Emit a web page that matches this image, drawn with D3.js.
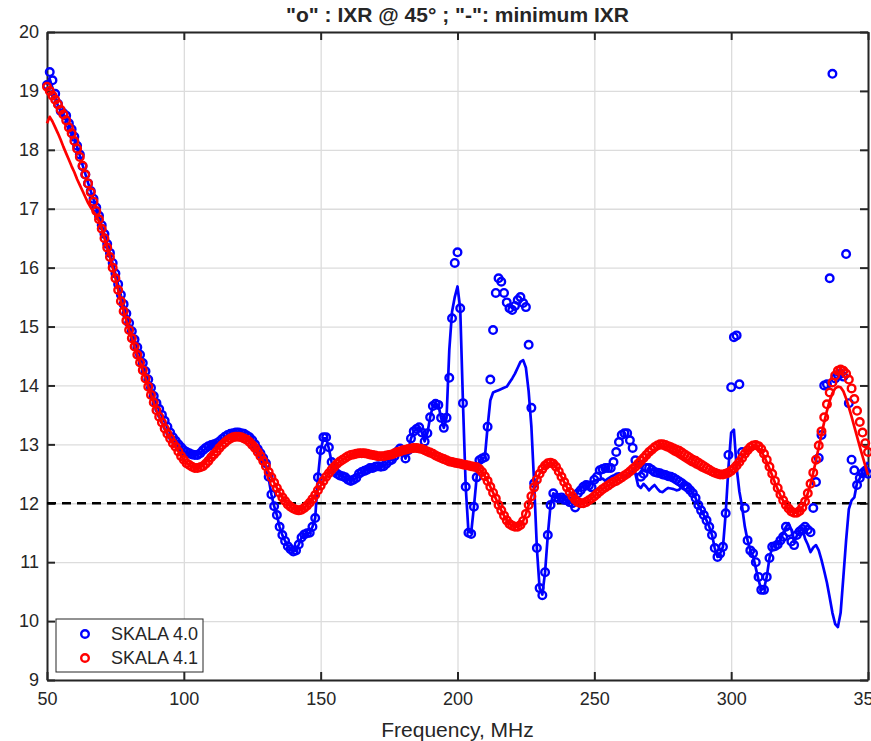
<!DOCTYPE html>
<html>
<head>
<meta charset="utf-8">
<script src="https://cdn.jsdelivr.net/npm/d3@7/dist/d3.min.js"></script>
<style>
    body { margin: 0; background: #fff; }
    svg text { font-family: "Liberation Sans", Arial, Helvetica, sans-serif; fill: #262626; }
</style>
</head>
<body>
<script>
//frequency grid, MHz (one sample per MHz)
var freqs = d3.range(50, 351, 1);

//SKALA 4.0, IXR @ 45 deg (blue circles)
var blueIxr = [
    19.1, 19.32, 19.18, 18.95, 18.78, 18.66, 18.62, 18.58, 18.45, 18.35,
    18.22, 18.07, 17.92, 17.72, 17.58, 17.43, 17.3, 17.17, 17.02, 16.88,
    16.72, 16.57, 16.4, 16.25, 16.08, 15.9, 15.72, 15.54, 15.38, 15.22,
    15.06, 14.92, 14.78, 14.65, 14.52, 14.38, 14.24, 14.1, 13.96, 13.82,
    13.7, 13.6, 13.5, 13.4, 13.3, 13.2, 13.12, 13.06, 13.0, 12.95,
    12.9, 12.87, 12.85, 12.83, 12.82, 12.82, 12.85, 12.9, 12.94, 12.97,
    12.99, 13.0, 13.02, 13.05, 13.09, 13.13, 13.16, 13.18, 13.19, 13.2,
    13.2, 13.19, 13.18, 13.15, 13.12, 13.07, 13.0, 12.92, 12.85, 12.77,
    12.68, 12.45, 12.15, 11.95, 11.8, 11.6, 11.46, 11.36, 11.27, 11.22,
    11.18, 11.2, 11.3, 11.42, 11.47, 11.49, 11.5, 11.6, 11.75, 12.44,
    12.9, 13.12, 13.12, 12.95, 12.7, 12.55, 12.5, 12.47, 12.46, 12.44,
    12.4, 12.38, 12.4, 12.43, 12.5, 12.53, 12.55, 12.57, 12.6, 12.6,
    12.62, 12.63, 12.62, 12.63, 12.67, 12.72, 12.74, 12.8, 12.88, 12.93,
    12.87, 12.76, 12.9, 13.1, 13.22, 13.26, 13.29, 13.2, 13.05, 13.19,
    13.46, 13.65, 13.69, 13.67, 13.45, 13.28, 13.45, 14.13, 15.14, 16.08,
    16.26, 15.31, 13.7, 12.28, 11.5, 11.48, 11.94, 12.44, 12.73, 12.76,
    12.78, 13.3, 14.1, 14.94, 15.57, 15.82, 15.76, 15.57, 15.41, 15.31,
    15.28, 15.35, 15.45, 15.5, 15.4, 15.33, 14.69, 13.62, 12.34, 11.24,
    10.56, 10.44, 10.83, 11.46, 11.97, 12.17, 12.1, 12.08, 12.1, 12.06,
    12.05, 12.02, 12.0, 11.93, 12.17, 12.22, 12.28, 12.31, 12.3, 12.27,
    12.4, 12.45, 12.56, 12.58, 12.6, 12.6, 12.6, 12.7, 12.87, 13.04,
    13.16, 13.19, 13.19, 13.07, 12.94, 12.73, 12.56, 12.45, 12.5, 12.6,
    12.6, 12.57, 12.53, 12.52, 12.51, 12.49, 12.48, 12.46, 12.45, 12.43,
    12.4, 12.37, 12.34, 12.3, 12.27, 12.22, 12.17, 12.09, 11.97, 11.88,
    11.8, 11.71, 11.6, 11.46, 11.24, 11.09, 11.15, 11.26, 11.83, 12.82,
    13.97, 14.82, 14.85, 14.02, 12.87, 11.92, 11.37, 11.2, 11.15, 11.0,
    10.75, 10.53, 10.53, 10.75, 11.07, 11.26, 11.27, 11.3, 11.37, 11.43,
    11.6, 11.51, 11.35, 11.29, 11.46, 11.52, 11.56, 11.6, 11.55, 11.51,
    11.92, 12.36, 12.77, 13.16, 14.0, 14.02, 15.82, 19.29, 14.12, 14.18,
    14.2, 14.15, 16.23, 13.7, 12.74, 12.56, 12.31, 12.43, 12.51, 12.55,
    12.5
];

//SKALA 4.0, minimum IXR (blue line)
var blueMin = [
    19.1, 19.2, 19.05, 18.88, 18.75, 18.66, 18.6, 18.52, 18.42, 18.32,
    18.2, 18.05, 17.9, 17.74, 17.59, 17.44, 17.3, 17.16, 17.01, 16.87,
    16.71, 16.56, 16.4, 16.24, 16.07, 15.89, 15.71, 15.53, 15.37, 15.21,
    15.05, 14.91, 14.77, 14.64, 14.51, 14.37, 14.23, 14.09, 13.95, 13.81,
    13.69, 13.58, 13.48, 13.38, 13.28, 13.19, 13.11, 13.05, 12.99, 12.94,
    12.89, 12.86, 12.84, 12.82, 12.81, 12.82, 12.85, 12.89, 12.93, 12.96,
    12.98, 13.0, 13.02, 13.05, 13.09, 13.12, 13.15, 13.17, 13.18, 13.19,
    13.19, 13.18, 13.17, 13.14, 13.1, 13.05, 12.98, 12.9, 12.82, 12.74,
    12.64, 12.42, 12.15, 11.95, 11.8, 11.6, 11.46, 11.36, 11.27, 11.22,
    11.18, 11.2, 11.3, 11.42, 11.47, 11.49, 11.5, 11.6, 11.75, 12.44,
    12.9, 13.1, 13.1, 12.93, 12.7, 12.55, 12.5, 12.47, 12.46, 12.44,
    12.4, 12.38, 12.4, 12.43, 12.5, 12.53, 12.55, 12.57, 12.6, 12.6,
    12.62, 12.63, 12.62, 12.63, 12.67, 12.72, 12.74, 12.8, 12.88, 12.93,
    12.87, 12.76, 12.9, 13.1, 13.22, 13.26, 13.29, 13.2, 13.05, 13.19,
    13.46, 13.65, 13.69, 13.67, 13.45, 13.28, 13.45, 14.6, 15.25, 15.5,
    15.68, 15.3, 13.7, 12.28, 11.52, 11.5, 11.94, 12.44, 12.73, 12.76,
    12.78, 13.3, 13.75, 13.88, 13.9, 13.92, 13.94, 13.96, 13.98, 14.05,
    14.12, 14.2, 14.3, 14.4, 14.43, 14.3, 13.9, 13.3, 12.34, 11.24,
    10.56, 10.45, 10.83, 11.46, 11.97, 12.17, 12.1, 12.08, 12.1, 12.06,
    12.05, 12.02, 12.0, 12.1, 12.2, 12.25, 12.3, 12.33, 12.35, 12.36,
    12.38, 12.4, 12.4, 12.42, 12.38, 12.42, 12.45, 12.47, 12.5, 12.51,
    12.48, 12.45, 12.47, 12.52, 12.54, 12.5, 12.3, 12.26, 12.33, 12.28,
    12.22, 12.27, 12.31, 12.25, 12.2, 12.19, 12.23, 12.26, 12.25, 12.24,
    12.22, 12.23, 12.3, 12.33, 12.3, 12.22, 12.17, 12.09, 11.97, 11.88,
    11.8, 11.71, 11.6, 11.46, 11.24, 11.09, 11.15, 11.26, 11.83, 12.6,
    13.2, 13.25, 12.6, 12.2, 11.94, 11.6, 11.37, 11.2, 11.1, 10.9,
    10.7, 10.53, 10.55, 10.75, 11.07, 11.26, 11.29, 11.33, 11.37, 11.5,
    11.6, 11.66, 11.55, 11.34, 11.45, 11.52, 11.58, 11.4, 11.3, 11.17,
    11.25, 11.29, 11.2, 11.04, 10.85, 10.65, 10.4, 10.14, 9.95, 9.9,
    10.14, 10.75, 11.37, 11.9, 12.05, 12.1, 12.35, 12.42, 12.55, 12.62,
    12.7
];

//SKALA 4.1, IXR @ 45 deg (red circles)
var redIxr = [
    19.07, 19.0, 18.92, 18.85, 18.77, 18.68, 18.6, 18.5, 18.38, 18.28,
    18.15, 18.02, 17.88, 17.73, 17.58, 17.43, 17.28, 17.12, 16.96, 16.82,
    16.66, 16.5, 16.34, 16.18, 16.0, 15.82, 15.62, 15.43, 15.26, 15.1,
    14.94, 14.8, 14.66, 14.52, 14.39, 14.26, 14.12, 13.98, 13.84, 13.71,
    13.58, 13.47, 13.37, 13.27, 13.18, 13.1, 13.02, 12.96, 12.88, 12.8,
    12.74, 12.68, 12.65, 12.62, 12.6, 12.6, 12.61, 12.63, 12.67, 12.72,
    12.78, 12.83, 12.88, 12.94, 12.99, 13.03, 13.07, 13.1, 13.12, 13.13,
    13.13, 13.12, 13.1, 13.08, 13.04, 12.99, 12.94, 12.87, 12.8, 12.72,
    12.63, 12.53, 12.44, 12.35, 12.26, 12.18, 12.1, 12.04, 11.98, 11.94,
    11.91, 11.89, 11.88, 11.89, 11.92, 11.96, 12.01, 12.07, 12.14, 12.22,
    12.3, 12.38, 12.45, 12.51, 12.57, 12.62, 12.67, 12.71, 12.74, 12.77,
    12.8, 12.82, 12.83, 12.84, 12.85, 12.85, 12.85, 12.84, 12.83, 12.82,
    12.81, 12.8, 12.8, 12.8, 12.81, 12.82, 12.83, 12.85, 12.87, 12.88,
    12.9, 12.91, 12.92, 12.93, 12.94, 12.94, 12.93, 12.92, 12.9, 12.88,
    12.86, 12.84, 12.81, 12.79, 12.77, 12.75, 12.73, 12.71, 12.7, 12.69,
    12.68, 12.67, 12.66, 12.65, 12.64, 12.63, 12.62, 12.61, 12.58, 12.53,
    12.46, 12.38, 12.28, 12.18, 12.08, 11.97, 11.88, 11.79, 11.71, 11.65,
    11.62, 11.6, 11.6, 11.63, 11.7, 11.82, 11.97, 12.12, 12.27, 12.4,
    12.5, 12.58, 12.64, 12.68, 12.69, 12.67, 12.62, 12.54, 12.45, 12.36,
    12.27, 12.19, 12.12, 12.06, 12.02, 12.0, 12.0, 12.02, 12.05, 12.08,
    12.12, 12.16, 12.2, 12.24, 12.27, 12.3, 12.33, 12.36, 12.38, 12.41,
    12.44, 12.47, 12.5, 12.54, 12.58, 12.62, 12.67, 12.72, 12.77, 12.82,
    12.87, 12.91, 12.95, 12.98, 13.0, 13.0, 12.99, 12.97, 12.95, 12.93,
    12.91, 12.89, 12.86, 12.83, 12.8, 12.77, 12.74, 12.72, 12.69, 12.66,
    12.63, 12.6, 12.57, 12.54, 12.52, 12.5, 12.49, 12.49, 12.5, 12.52,
    12.55, 12.59, 12.64, 12.7, 12.77, 12.84, 12.9, 12.95, 12.98, 12.99,
    12.97, 12.92, 12.84, 12.74, 12.62, 12.5, 12.38, 12.26, 12.15, 12.05,
    11.97, 11.91, 11.86, 11.84, 11.84, 11.87, 11.93, 12.03, 12.17, 12.33,
    12.52, 12.74, 12.98, 13.22, 13.46, 13.68, 13.88, 14.05, 14.17, 14.25,
    14.27, 14.25, 14.2, 14.1, 13.95, 13.77, 13.57, 13.38, 13.2, 13.02,
    12.87
];

//SKALA 4.1, minimum IXR (red line)
var redMin = [
    18.45, 18.56, 18.48, 18.38, 18.28, 18.17, 18.05, 17.94, 17.83, 17.72,
    17.62, 17.5, 17.4, 17.3, 17.2, 17.1, 17.02, 16.95, 16.88, 16.79,
    16.66, 16.5, 16.34, 16.18, 16.0, 15.82, 15.62, 15.43, 15.26, 15.1,
    14.94, 14.8, 14.66, 14.52, 14.39, 14.26, 14.12, 13.98, 13.84, 13.71,
    13.58, 13.47, 13.37, 13.27, 13.18, 13.1, 13.02, 12.96, 12.88, 12.8,
    12.74, 12.68, 12.65, 12.62, 12.6, 12.6, 12.62, 12.65, 12.69, 12.74,
    12.8, 12.85, 12.9, 12.96, 13.01, 13.05, 13.09, 13.12, 13.14, 13.15,
    13.15, 13.14, 13.12, 13.09, 13.05, 13.0, 12.94, 12.87, 12.8, 12.72,
    12.63, 12.53, 12.44, 12.35, 12.26, 12.18, 12.1, 12.04, 11.98, 11.94,
    11.91, 11.89, 11.88, 11.89, 11.92, 11.96, 12.01, 12.07, 12.14, 12.22,
    12.3, 12.38, 12.45, 12.51, 12.57, 12.62, 12.67, 12.71, 12.74, 12.77,
    12.8, 12.82, 12.83, 12.84, 12.85, 12.85, 12.85, 12.84, 12.83, 12.82,
    12.81, 12.8, 12.8, 12.8, 12.81, 12.82, 12.83, 12.85, 12.87, 12.88,
    12.9, 12.91, 12.92, 12.93, 12.94, 12.94, 12.93, 12.92, 12.9, 12.88,
    12.86, 12.84, 12.81, 12.79, 12.77, 12.75, 12.73, 12.71, 12.7, 12.69,
    12.68, 12.67, 12.66, 12.65, 12.64, 12.63, 12.62, 12.61, 12.58, 12.53,
    12.46, 12.38, 12.28, 12.18, 12.08, 11.97, 11.88, 11.79, 11.71, 11.65,
    11.62, 11.6, 11.6, 11.63, 11.7, 11.82, 11.97, 12.12, 12.27, 12.4,
    12.5, 12.58, 12.64, 12.68, 12.69, 12.67, 12.62, 12.54, 12.45, 12.36,
    12.27, 12.19, 12.12, 12.06, 12.02, 12.0, 12.0, 12.02, 12.05, 12.08,
    12.12, 12.16, 12.2, 12.24, 12.27, 12.3, 12.33, 12.36, 12.38, 12.41,
    12.44, 12.47, 12.5, 12.54, 12.58, 12.62, 12.66, 12.7, 12.74, 12.79,
    12.85, 12.88, 12.91, 12.93, 12.94, 12.93, 12.91, 12.89, 12.86, 12.83,
    12.81, 12.78, 12.75, 12.72, 12.69, 12.66, 12.64, 12.61, 12.59, 12.56,
    12.54, 12.52, 12.5, 12.48, 12.47, 12.46, 12.46, 12.47, 12.49, 12.52,
    12.55, 12.59, 12.64, 12.7, 12.77, 12.84, 12.9, 12.94, 12.96, 12.96,
    12.93, 12.88, 12.8, 12.7, 12.59, 12.47, 12.35, 12.24, 12.13, 12.04,
    11.96, 11.9, 11.86, 11.84, 11.84, 11.87, 11.93, 12.03, 12.17, 12.33,
    12.52, 12.73, 12.95, 13.17, 13.38, 13.57, 13.74, 13.87, 13.95, 13.98,
    13.97, 13.9, 13.78, 13.63, 13.47, 13.3, 13.13, 12.96, 12.8, 12.64,
    12.48
];

//axis ticks, reference level and legend entries
var xTicks = [50, 100, 150, 200, 250, 300, 350];
var yTicks = [9, 10, 11, 12, 13, 14, 15, 16, 17, 18, 19, 20];
var refLevel = 12;
var legendLabels = ["SKALA 4.0", "SKALA 4.1"];
var seriesColors = ["#0000ff", "#ff0000"];

(function(){

    //frame dimensions
    var width = 871,
        height = 741,
        left = 47,
        right = 868,
        top = 32,
        bottom = 680;

    var svg = d3.select("body")
        .append("svg")
        .attr("width", width)
        .attr("height", height);

    //scales
    var x = d3.scaleLinear()
        .domain([50, 350])
        .range([left, right]);

    var y = d3.scaleLinear()
        .domain([9, 20])
        .range([bottom, top]);

    //grid lines
    svg.append("g")
        .attr("class", "grid")
        .attr("transform", "translate(0," + bottom + ")")
        .call(d3.axisBottom(x).tickValues(xTicks).tickSize(-(bottom - top)).tickFormat(""));

    svg.append("g")
        .attr("class", "grid")
        .attr("transform", "translate(" + left + ",0)")
        .call(d3.axisLeft(y).tickValues(yTicks).tickSize(-(right - left)).tickFormat(""));

    svg.selectAll(".grid .domain").remove();
    svg.selectAll(".grid line")
        .attr("stroke", "#dcdcdc")
        .attr("stroke-width", 1.3);

    //axes with inward ticks on all four sides
    svg.append("g")
        .attr("class", "axis")
        .attr("transform", "translate(0," + bottom + ")")
        .call(d3.axisBottom(x).tickValues(xTicks).tickSize(-8).tickPadding(12).tickSizeOuter(0));

    svg.append("g")
        .attr("class", "axis")
        .attr("transform", "translate(" + left + ",0)")
        .call(d3.axisLeft(y).tickValues(yTicks).tickSize(-8).tickPadding(8).tickSizeOuter(0));

    svg.append("g")
        .attr("class", "axis")
        .attr("transform", "translate(0," + top + ")")
        .call(d3.axisTop(x).tickValues(xTicks).tickSize(-8).tickFormat("").tickSizeOuter(0));

    svg.append("g")
        .attr("class", "axis")
        .attr("transform", "translate(" + right + ",0)")
        .call(d3.axisRight(y).tickValues(yTicks).tickSize(-8).tickFormat("").tickSizeOuter(0));

    svg.selectAll(".axis path, .axis line")
        .attr("stroke", "#262626")
        .attr("stroke-width", 2);

    svg.selectAll(".axis text")
        .attr("fill", "#262626")
        .style("font-size", "18px");

    //dashed reference line
    svg.append("line")
        .attr("x1", x(50))
        .attr("x2", x(350))
        .attr("y1", y(refLevel))
        .attr("y2", y(refLevel))
        .attr("stroke", "#000")
        .attr("stroke-width", 2.5)
        .attr("stroke-dasharray", "9,6");

    //build point tables from the arrays
    function makePoints(values){
        return freqs.map(function(f, i){
            return { f: f, v: values[i] };
        });
    };

    var line = d3.line()
        .x(function(d){ return x(d.f); })
        .y(function(d){ return y(d.v); });

    function drawMarkers(values, color){
        svg.append("g")
            .selectAll("circle")
            .data(makePoints(values))
            .enter()
            .append("circle")
            .attr("cx", function(d){ return x(d.f); })
            .attr("cy", function(d){ return y(d.v); })
            .attr("r", 3.8)
            .attr("fill", "none")
            .attr("stroke", color)
            .attr("stroke-width", 2.4);
    };

    function drawLine(values, color){
        svg.append("path")
            .datum(makePoints(values))
            .attr("d", line)
            .attr("fill", "none")
            .attr("stroke", color)
            .attr("stroke-width", 2.7)
            .attr("stroke-linejoin", "round");
    };

    drawMarkers(blueIxr, seriesColors[0]);
    drawLine(blueMin, seriesColors[0]);
    drawMarkers(redIxr, seriesColors[1]);
    drawLine(redMin, seriesColors[1]);

    //title
    svg.append("text")
        .attr("x", (left + right) / 2)
        .attr("y", 22)
        .attr("text-anchor", "middle")
        .style("font-size", "21px")
        .style("font-weight", "bold")
        .attr("fill", "#000")
        .text('"o" : IXR @ 45° ; "-": minimum IXR');

    //x axis label
    svg.append("text")
        .attr("x", (left + right) / 2)
        .attr("y", 737)
        .attr("text-anchor", "middle")
        .style("font-size", "21px")
        .text("Frequency, MHz");

    //legend
    var legend = svg.append("g")
        .attr("class", "legend");

    legend.append("rect")
        .attr("x", 56)
        .attr("y", 619)
        .attr("width", 147)
        .attr("height", 53)
        .attr("fill", "#fff")
        .attr("stroke", "#262626")
        .attr("stroke-width", 1);

    legendLabels.forEach(function(label, i){
        var ly = 634 + i * 24;
        legend.append("circle")
            .attr("cx", 85)
            .attr("cy", ly)
            .attr("r", 3.8)
            .attr("fill", "none")
            .attr("stroke", seriesColors[i])
            .attr("stroke-width", 2.4);
        legend.append("text")
            .attr("x", 111)
            .attr("y", ly)
            .attr("dy", "0.35em")
            .style("font-size", "18px")
            .attr("fill", "#000")
            .text(label);
    });

})();
</script>
</body>
</html>
